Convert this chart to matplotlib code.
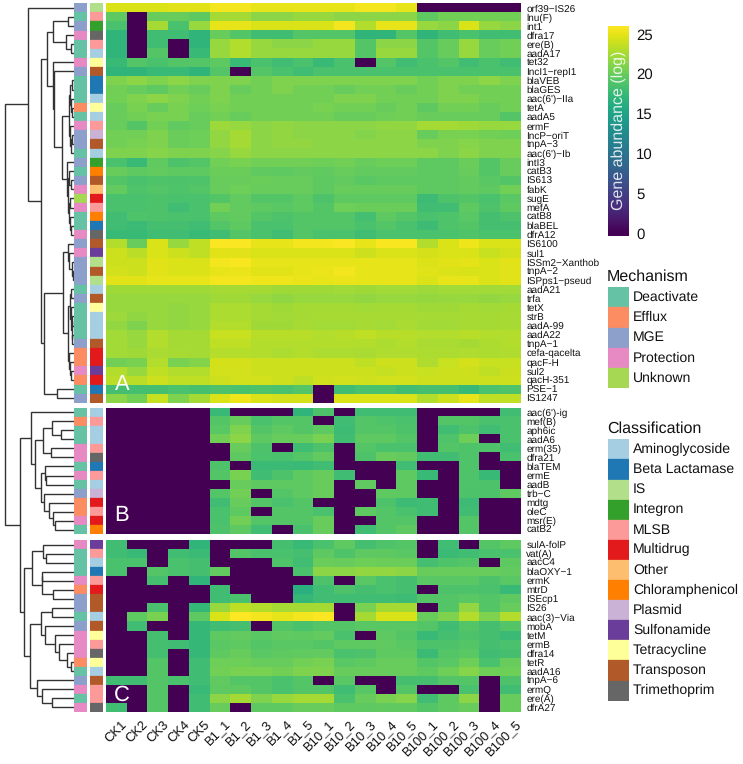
import matplotlib
matplotlib.use("Agg")
import matplotlib.pyplot as plt
from matplotlib.patches import Rectangle
from matplotlib.transforms import ScaledTranslation
import numpy as np

plt.rcParams["font.family"] = ["Liberation Sans", "DejaVu Sans"]
plt.rcParams["text.hinting"] = "no_hinting"
plt.rcParams["text.hinting_factor"] = 1

W, H = 743, 764

samples = ["CK1", "CK2", "CK3", "CK4", "CK5",
           "B1_1", "B1_2", "B1_3", "B1_4", "B1_5",
           "B10_1", "B10_2", "B10_3", "B10_4", "B10_5",
           "B100_1", "B100_2", "B100_3", "B100_4", "B100_5"]

genes_a = ["orf39−IS26", "lnu(F)", "int1", "dfra17", "ere(B)", "aadA17", "tet32", "IncI1−repI1",
           "blaVEB", "blaGES", "aac(6')−IIa", "tetA", "aadA5", "ermF", "IncP−oriT", "tnpA−3",
           "aac(6')−Ib", "intI3", "catB3", "IS613", "fabK", "sugE", "mefA", "catB8", "blaBEL",
           "dfrA12", "IS6100", "sul1", "ISSm2−Xanthob", "tnpA−2", "ISPps1−pseud", "aadA21",
           "trfa", "tetX", "strB", "aadA-99", "aadA22", "tnpA−1", "cefa-qacelta", "qacF-H",
           "sul2", "qacH-351", "PSE−1", "IS1247"]
genes_b = ["aac(6')-ig", "mef(B)", "aph6ic", "aadA6", "erm(35)", "dfra21", "blaTEM", "ermE",
           "aadB", "trb−C", "mdtg", "oleC", "msr(E)", "catB2"]
genes_c = ["sulA-folP", "vat(A)", "aacC4", "blaOXY−1", "ermK", "mtrD", "ISEcp1", "IS26",
           "aac(3)−Via", "mobA", "tetM", "ermB", "dfra14", "tetR", "aadA16", "tnpA−6", "ermQ",
           "ere(A)", "dfrA27"]

abund_a = [
    [24.5, 24.5, 24.5, 24.8, 24.8, 25.5, 25.5, 25, 25, 25, 25, 25, 25.5, 25.5, 25, 0, 0, 0, 0, 0],
    [19.5, 0, 20, 20, 19.5, 22.5, 22.5, 21.5, 21.5, 22, 22, 21.5, 21.5, 21.5, 21.5, 19.5, 20.5, 20.5, 20.5, 20.5],
    [18.5, 0, 22.5, 18.5, 22, 25, 25, 24.5, 24.5, 24.5, 24.5, 25.5, 23, 25, 25, 22, 21.5, 24.5, 22, 21.5],
    [17, 0, 18, 18, 17, 20, 19, 18, 18, 19, 19, 19, 17, 17, 19, 17, 18, 18.5, 18, 18],
    [17, 0, 18, 0, 17, 22, 23, 22, 21.5, 21.5, 22, 22, 19, 21.5, 21.5, 19, 20, 22, 20, 20.5],
    [17, 0, 19, 0, 17.5, 22, 23, 22, 22, 22, 22, 22, 19, 22, 22, 19, 20, 22, 20, 20.5],
    [17.5, 19, 18.5, 19, 19, 19.5, 17.5, 18.5, 18, 18.5, 17.5, 18.5, 0, 19, 18, 18.5, 19, 18, 18.5, 18],
    [17, 17, 17.5, 17.5, 17, 19, 0, 19, 18.5, 18, 18.5, 18.5, 18.5, 18.5, 18.5, 18.5, 18.5, 18.5, 18.5, 18.5],
    [21, 21.5, 21, 21.5, 21, 21, 21, 20.5, 21, 21, 21, 21, 21, 21, 21, 20.5, 21, 21, 21.5, 21],
    [20.5, 20, 19.5, 20.5, 20, 21, 20, 20.5, 21, 20.5, 20.5, 20, 20.5, 20.5, 20, 20.5, 21, 20.5, 20.5, 20.5],
    [20.5, 21, 21.5, 21, 20.5, 21, 20.5, 20.5, 20.5, 20.5, 20.5, 21, 21, 20.5, 20.5, 20.5, 21, 21, 20.5, 20.5],
    [20, 20.8, 20, 20.8, 20.3, 20.8, 20.5, 20.5, 20.5, 20.5, 20.8, 20.5, 20.5, 20, 20.5, 19.5, 20.5, 20.5, 20, 20.5],
    [20, 20.5, 20.8, 20.8, 20, 20.5, 20, 20.5, 20.5, 20.5, 20.5, 20, 20, 20.3, 20.5, 20, 20, 20, 20, 19],
    [20, 19, 20.5, 19.7, 20, 22.2, 22, 21.5, 21.8, 21.5, 21.5, 21.5, 21.5, 21.8, 21.8, 22.5, 22.5, 22.3, 22, 22],
    [20.5, 20.5, 21, 20.2, 20.3, 21.8, 22.5, 21.5, 21.8, 21.5, 21.5, 21.5, 21.2, 21.5, 21.5, 20, 20.8, 20.8, 20.5, 20.3],
    [20.5, 20.8, 21, 20.2, 20.3, 21.8, 22.5, 21.5, 21.8, 21.8, 21.5, 21.5, 21.5, 21.5, 21.5, 21, 21, 21.3, 21, 21],
    [21, 21, 21.3, 21, 21, 21.3, 22, 21.5, 21.5, 21.5, 21.5, 21.5, 21.5, 21.5, 21.5, 21.5, 21, 21.5, 21, 21],
    [18.5, 17.5, 19.7, 18.7, 19, 20.5, 20.8, 20.5, 20.5, 20.5, 20.3, 20.5, 20, 20.3, 20.3, 19.5, 19.5, 20.2, 19, 20],
    [20, 19.5, 19.8, 19.5, 19.5, 20.2, 20.2, 19.7, 19.5, 19.8, 19.7, 20, 19.8, 19.8, 19.8, 19.5, 19.5, 20, 19, 20],
    [19, 18.5, 18.8, 18.7, 18.8, 20, 20, 20.2, 20, 20, 19.5, 19.8, 19.3, 19.5, 19.5, 19.5, 19.5, 19.8, 19.3, 19],
    [19.8, 18.8, 19, 18.8, 19, 20, 20.3, 20, 20, 20, 19.5, 20, 20, 20, 20, 19.5, 19.5, 19.8, 19.5, 20.5],
    [18.5, 18.5, 18.7, 18.5, 18.5, 19, 19.8, 19, 19, 19.5, 18.7, 19.6, 19.6, 19.5, 19.6, 17.8, 18.7, 19, 18.5, 19.3],
    [18.5, 18.5, 18.7, 18, 18.5, 20.5, 19.8, 19.5, 19.3, 19.5, 19, 20.3, 20.2, 20.2, 20.2, 18, 18, 19.5, 18.7, 19.5],
    [18, 18.8, 18.7, 18.5, 18.5, 19.5, 19.8, 19, 18.7, 19, 19, 19, 18.2, 19.5, 19, 18.5, 18.8, 19.3, 18.3, 18.7],
    [18, 17.7, 18.3, 18.3, 18, 19, 19.5, 18.5, 18.5, 19, 19, 19, 18.5, 19, 18.5, 17.8, 18.8, 19, 18.3, 18.3],
    [17.5, 17.5, 18, 18, 17.5, 18, 19, 18.5, 18, 19, 18.5, 18.5, 18, 18.5, 18.5, 18.5, 18.5, 18.8, 18.5, 18.5],
    [23, 20, 24.5, 22, 23.5, 25.8, 25.8, 25, 25, 25.5, 25.5, 25.8, 25, 25.7, 25.7, 23, 24.5, 25.3, 24.5, 24.5],
    [24, 23.3, 24.5, 24, 23.5, 24.8, 24.8, 24.5, 24.5, 24.5, 24.5, 24.5, 24, 24.5, 24.5, 24.3, 24.5, 24.5, 23.8, 24.2],
    [24, 24, 24.8, 24.5, 24.5, 25.5, 25.7, 25, 25, 25, 25, 25, 25, 25, 25, 24.6, 24.8, 24.9, 24.5, 24.8],
    [24.2, 24, 24.8, 24.5, 24.6, 25, 25.2, 24.8, 24.8, 25, 25.2, 25.5, 25, 25, 25, 24.7, 24.6, 24.4, 24.5, 24.8],
    [24.8, 24.8, 25, 25, 25, 25.5, 25.5, 25.3, 25.3, 25.2, 25, 25.2, 25, 25, 25, 24.5, 25, 25, 24.5, 24.8],
    [22.3, 22.3, 22.3, 22.3, 22.3, 22.5, 22.5, 22.5, 22.3, 22.3, 22.3, 22.4, 22.3, 22.4, 22.4, 22.2, 22.4, 22.4, 22.4, 22.4],
    [22, 22, 22, 22, 22, 22.3, 22.3, 22, 21.7, 22, 22, 22, 21.8, 22, 22, 21.9, 22, 22, 21.8, 22],
    [22, 22, 22, 21.8, 22, 22.8, 22.8, 22.5, 22.3, 22.5, 22.5, 22.5, 22.4, 22.5, 22.5, 22.3, 22.3, 22.5, 22.4, 22.5],
    [22.2, 21.7, 22, 21.8, 22, 22.8, 22.8, 22.5, 22.4, 22.5, 22.6, 22.6, 22.6, 22.6, 22.6, 22.5, 22.5, 22.6, 22.5, 22.6],
    [21.8, 21, 22, 21.8, 22, 23, 23, 22.3, 22.3, 22.6, 22.4, 22.4, 22.6, 22.4, 22.7, 22.4, 22.4, 22.6, 22.5, 22.6],
    [22.4, 22, 23, 22.5, 22.5, 23.8, 23.8, 23.2, 23.2, 23.2, 23, 23.2, 23.5, 23.2, 23.2, 23, 23, 23.2, 23, 23],
    [22.4, 22, 23, 22.5, 22.5, 23.5, 23.5, 23, 23, 23, 23, 23, 23, 22.8, 23, 22.7, 22.7, 22.5, 22.8, 23],
    [22.4, 22.3, 22.7, 22.6, 22.5, 23.1, 23.1, 23, 22.8, 23, 22.8, 22.8, 22.7, 22.9, 22.9, 22.8, 22.8, 22.9, 22.8, 22.9],
    [20.5, 20.8, 23, 20.8, 21.2, 24.3, 24.3, 24, 24, 24, 24, 24, 23.5, 24, 24, 22.9, 23.8, 24.3, 23.8, 23.8],
    [23, 22, 23.5, 23, 23, 24.2, 24.2, 24, 24, 24, 24, 24, 24, 23.7, 24, 23.8, 24, 24, 23.5, 23.9],
    [23.3, 23.3, 24, 23.5, 23.5, 24, 24.2, 24.2, 24, 23.5, 24.1, 24.2, 24.1, 24.2, 24.2, 24, 24, 24, 24, 24],
    [18.3, 18.3, 18.3, 18.6, 18.4, 18.7, 18.5, 18.8, 18.5, 19, 0, 18, 18.5, 18.5, 18, 18.3, 18.3, 17.5, 18.5, 18.8],
    [21.5, 20.5, 23.8, 21, 22.5, 24.5, 25.3, 24.5, 24.3, 24.3, 0, 24.5, 24.5, 24.5, 24.5, 23, 24, 25, 23.5, 23.5],
]

abund_b = [
    [0, 0, 0, 0, 0, 17.5, 0, 0, 0, 17, 18.7, 0, 18, 18, 18, 0, 0, 0, 0, 18],
    [0, 0, 0, 0, 0, 19, 20, 18.5, 19, 19, 0, 18, 19, 18.8, 18.5, 0, 19, 19, 18.5, 18.5],
    [0, 0, 0, 0, 0, 19.3, 21, 19, 19.5, 19, 19.5, 17.8, 19, 19, 18.7, 0, 18, 18.7, 18, 18.5],
    [0, 0, 0, 0, 0, 20.5, 21.5, 19.5, 20, 20, 20.8, 18, 19.5, 19.5, 19, 0, 18.8, 20.3, 0, 18.5],
    [0, 0, 0, 0, 0, 0, 20, 18.7, 0, 18, 18.7, 0, 19, 18.5, 18.5, 0, 19, 18.8, 18.8, 18],
    [0, 0, 0, 0, 0, 0, 19.5, 18.6, 18.5, 19, 19.8, 0, 18.7, 20, 19.8, 18, 18, 18.8, 0, 18.5],
    [0, 0, 0, 0, 0, 18.7, 0, 17.7, 17.7, 17.5, 18, 0, 0, 0, 18, 0, 0, 18.8, 0, 0],
    [0, 0, 0, 0, 0, 19, 20.8, 18, 18.7, 19.5, 20, 18, 0, 0, 19.5, 17.5, 0, 18.8, 17.5, 0],
    [0, 0, 0, 0, 0, 0, 20, 19.5, 19.5, 19.5, 20, 0, 19.7, 0, 19.5, 0, 0, 18.8, 18.7, 0],
    [0, 0, 0, 0, 0, 19, 20.5, 0, 19, 19.5, 20, 0, 0, 19.5, 19.5, 0, 0, 18.7, 18.7, 19.5],
    [0, 0, 0, 0, 0, 18, 20, 19, 18.5, 19, 0, 0, 0, 18.7, 17.8, 18, 0, 17.8, 0, 0],
    [0, 0, 0, 0, 0, 18.5, 19.5, 0, 19, 19, 18.5, 0, 19.5, 19, 18.5, 18, 0, 18, 0, 0],
    [0, 0, 0, 0, 0, 18.5, 20.5, 19, 19, 19, 20, 0, 0, 19, 19, 0, 0, 19, 0, 0],
    [0, 0, 0, 0, 0, 18.7, 19.5, 18, 0, 18.5, 20, 0, 18, 19, 19.5, 0, 0, 19, 0, 0],
]

abund_c = [
    [18, 0, 0, 0, 17, 0, 0, 0, 18.3, 17.5, 18.5, 19.5, 18.3, 18.8, 19, 0, 18, 0, 19, 19.5],
    [18, 17.5, 0, 18, 17.7, 0, 19, 18.5, 18.5, 18.3, 19.5, 18.8, 19.5, 19.5, 19.3, 0, 17.7, 18, 18.5, 18.5],
    [18.5, 18.5, 0, 18.5, 18.3, 0, 0, 0, 18.8, 18, 20.2, 20, 20.3, 20.2, 20.2, 18.3, 18.8, 19, 0, 19.5],
    [18.5, 0, 19, 18.5, 18.3, 19.8, 0, 0, 0, 18.5, 21.5, 21.5, 21.8, 21.8, 21.5, 20, 20, 20, 20, 19.8],
    [0, 0, 18.3, 0, 17, 0, 0, 0, 0, 0, 18.7, 0, 19.3, 18.5, 18.3, 19.3, 19.3, 19.3, 18.7, 19.3],
    [0, 0, 0, 0, 0, 18, 0, 0, 0, 16.5, 18, 18.7, 18.3, 18.5, 18.3, 0, 18.7, 18.7, 18.5, 17.5],
    [0, 0, 0, 0, 0, 18, 18.5, 0, 0, 17.3, 18, 18, 18, 18, 17.8, 19, 19, 19.3, 19, 19.5],
    [0, 0, 18.5, 0, 17.3, 22, 23.5, 23, 22.5, 22.5, 22.5, 0, 20.8, 22.5, 22.5, 0, 19, 21.8, 19, 20],
    [0, 19.5, 20.8, 0, 19.5, 24.5, 26, 25.5, 25, 25.5, 25.8, 0, 22.5, 24.5, 24.5, 20, 21, 23, 21, 23],
    [0, 18, 0, 0, 17.3, 18, 18.3, 0, 19, 18.5, 19, 19, 19.3, 19.3, 19.3, 19, 18, 19, 18.3, 19],
    [0, 0, 18.3, 0, 17.3, 19.5, 19.8, 19.3, 19.7, 19.5, 19.8, 18.5, 0, 19.5, 19, 17.5, 18.3, 18.7, 18.3, 17.7],
    [0, 0, 18.3, 18, 17.3, 19.3, 19.5, 19, 19.3, 19.3, 19, 19.5, 19.5, 19.7, 19.3, 18.7, 18.7, 19, 18.3, 18.5],
    [0, 0, 18.3, 0, 17.3, 19.5, 20, 19.3, 19.5, 19.7, 19.8, 18.5, 18.7, 19.5, 19.5, 17.7, 19, 19.3, 18, 18.3],
    [0, 0, 19, 0, 18, 20.3, 20.3, 20, 20, 20.5, 20.8, 19.3, 19.5, 20, 20, 19, 19.3, 20.3, 18.5, 20],
    [0, 0, 19, 0, 18, 20.5, 20.8, 20.8, 20.5, 21, 21, 20, 20, 20, 20, 19.5, 20.3, 21.3, 20.3, 20.3],
    [18, 18, 19, 18.5, 18, 19.7, 19, 19, 18.5, 19, 0, 19.3, 0, 0, 18.3, 18.3, 19, 19, 0, 18.7],
    [0, 0, 19, 0, 17.5, 19.5, 19.5, 19, 18.5, 19, 19, 18, 19.2, 0, 19, 0, 0, 18.5, 0, 18],
    [0, 0, 19, 0, 18, 21.5, 22.5, 21, 22, 22.5, 22.5, 18.5, 20, 20.8, 21.3, 18, 19.5, 21.5, 0, 20],
    [18, 0, 19, 0, 18, 20, 0, 19.5, 19.5, 20, 20, 19.5, 19.5, 19.7, 19.7, 19, 19.5, 20, 0, 20],
]

mechanism_names = ["Deactivate", "Efflux", "MGE", "Protection", "Unknown"]
mechanism_colors = ["#66c2a5", "#fc8d62", "#8da0cb", "#e78ac3", "#a6d854"]
class_names = ["Aminoglycoside", "Beta Lactamase", "IS", "Integron", "MLSB", "Multidrug", "Other",
               "Chloramphenicol", "Plasmid", "Sulfonamide", "Tetracycline", "Transposon", "Trimethoprim"]
class_colors = ["#a6cee3", "#1f78b4", "#b2df8a", "#33a02c", "#fb9a99", "#e31a1c", "#fdbf6f",
                "#ff7f00", "#cab2d6", "#6a3d9a", "#ffff99", "#b15928", "#666666"]

mech_a = "MDMPDDPMDDDEDPMMDMDMPUPDDPMPMMMDMDDDDMEEPEDM"
mech_b = "DEDDPPDPDMEEPD"
mech_c = "PDDDPEMMDMPPPEDMPDP"
cls_a = ["IS", "MLSB", "Integron", "Trimethoprim", "MLSB", "Aminoglycoside", "Tetracycline", "Transposon",
         "Beta Lactamase", "Beta Lactamase", "Aminoglycoside", "Tetracycline", "Aminoglycoside", "MLSB",
         "Plasmid", "Transposon", "Aminoglycoside", "Integron", "Chloramphenicol", "Transposon", "Other",
         "Multidrug", "MLSB", "Chloramphenicol", "Beta Lactamase", "Trimethoprim", "Transposon", "Sulfonamide",
         "IS", "Transposon", "IS", "Aminoglycoside", "Transposon", "Tetracycline", "Aminoglycoside",
         "Aminoglycoside", "Aminoglycoside", "Transposon", "Multidrug", "Multidrug", "Sulfonamide", "Multidrug",
         "Beta Lactamase", "Transposon"]
cls_b = ["Aminoglycoside", "MLSB", "Aminoglycoside", "Aminoglycoside", "MLSB", "Trimethoprim", "Beta Lactamase",
         "MLSB", "Aminoglycoside", "Plasmid", "Multidrug", "MLSB", "Multidrug", "Chloramphenicol"]
cls_c = ["Sulfonamide", "MLSB", "Aminoglycoside", "Beta Lactamase", "MLSB", "Multidrug", "Transposon", "Transposon",
         "Aminoglycoside", "Transposon", "Tetracycline", "MLSB", "Trimethoprim", "Tetracycline", "Aminoglycoside",
         "Transposon", "MLSB", "MLSB", "Trimethoprim"]

# merge heights of the row clustering, (height, upper, lower), L is a leaf
L = None
tree = (68.8,
        (45.2, L,
         (32.8,
          (26.8,
           (20.2, (5.8, L, L), (7.8, L, (2.8, L, L))),
           (20.2, L, (19.2, L, (11.2,
                                (4.5, (3.5, (2, L, L), (2.8, L, (1.8, L, L))), (3.2, L, (2.5, (1.5, L, L), L))),
                                (6.8, L, (6.0, (4.5, L, (2.8, L, L)), (5.0, (3.5, L, L), (4.0, L, (2.5, L, L))))))))),
          (29.2,
           (10.2,
            (5.2, L, (4.8, L, (2.0, L, (1.0, L, L)))),
            (5.8,
             (3.2, (2.2, L, L), (2.6, L, (2.0, (1.2, L, L), (1.5, L, L)))),
             (5.0, L, (4.0, L, (2.8, L, L))))),
           (16.8, L, L)))),
        (53.5,
         (42.8, L,
          (38.5,
           (30.2, (21.2, L, (12.8, L, L)), (22.8, L, L)),
           (32.8,
            (28.5, L, (27.5, L, L)),
            (29.5, L, (24.5, L, (20.2, L, (18.5, L, L))))))),
         (49.2,
          (41.8, (30.8, L, (27.8, L, L)), (31.8, (31.5, L, L), (20.2, L, L))),
          (43.5,
           (32.8, (21.8, L, L), (28.5, L, (18.5, L, (14.2, L, (6.8, L, (2.8, L, L)))))),
           (36.2, L, (31.8, L, (21.8, L, L)))))))

VMAX = 26
panels = [
    ("A", genes_a, abund_a, mech_a, cls_a, 3.3, 402.7, 384),
    ("B", genes_b, abund_b, mech_b, cls_b, 407.7, 534.3, 515),
    ("C", genes_c, abund_c, mech_c, cls_c, 540.0, 712.0, 695),
]
X0, X1 = 106.5, 521.5
LEAF_X = 73.5

fig = plt.figure(figsize=(W / 100, H / 100), dpi=100)


def px_axes(x0, y0, x1, y1):
    return fig.add_axes([x0 / W, 1 - y1 / H, (x1 - x0) / W, (y1 - y0) / H])


def strip(x0, x1, y0, y1, colors):
    ax = px_axes(x0, y0, x1, y1)
    for i, c in enumerate(colors):
        ax.add_patch(Rectangle((0, i), 1, 1, fc=c, ec=c, lw=0.2))
    ax.set_xlim(0, 1)
    ax.set_ylim(len(colors), 0)
    ax.axis("off")


leaf_y = []
mech_lookup = dict(zip("DEMPU", mechanism_colors))
class_lookup = dict(zip(class_names, class_colors))

for letter, genes, values, mech, cls, y0, y1, letter_y in panels:
    ax = px_axes(X0, y0, X1, y1)
    ax.imshow(np.array(values), cmap="viridis", vmin=0, vmax=VMAX, aspect="auto",
              interpolation="nearest")
    ax.set_xticks([])
    ax.yaxis.tick_right()
    ax.set_yticks(range(len(genes)))
    ax.set_yticklabels(genes, fontsize=7.4, color="#111111")
    ax.tick_params(axis="y", length=0, pad=3.5)
    for s in ax.spines.values():
        s.set_visible(False)
    fig.text(122 / W, 1 - letter_y / H, letter, color="white", fontsize=15.5, ha="center", va="center")

    strip(74, 87, y0, y1, [mech_lookup[m] for m in mech])
    strip(89.7, 103, y0, y1, [class_lookup[c] for c in cls])

    dy = (y1 - y0) / len(genes)
    leaf_y += [y0 + (i + 0.5) * dy for i in range(len(genes))]

    if letter == "C":
        ax.set_xticks(range(len(samples)))
        ax.set_xticklabels(samples, rotation=45, ha="right", va="top", rotation_mode="anchor",
                           fontsize=9.6, color="#111111")
        ax.tick_params(axis="x", length=0, pad=4.5)
        shift = ScaledTranslation(4 / 100, 0, fig.dpi_scale_trans)
        for lab in ax.get_xticklabels():
            lab.set_transform(lab.get_transform() + shift)

# dendrogram, drawn in pixel coordinates
dend = px_axes(0, 0, LEAF_X, H)
dend.set_xlim(LEAF_X, 0)
dend.set_ylim(H, 0)
dend.axis("off")
leaves = iter(leaf_y)


def draw(node):
    if node is None:
        return 0, next(leaves)
    h, upper, lower = node
    hu, yu = draw(upper)
    hl, yl = draw(lower)
    dend.plot([hu, h, h, hl], [yu, yu, yl, yl], color="#333333", lw=1.0,
              solid_joinstyle="miter", solid_capstyle="butt")
    return h, (yu + yl) / 2


draw(tree)

# colour bar
cb = px_axes(608.3, 26, 629, 236)
grad = np.linspace(-0.34, 26, 256).reshape(-1, 1)
cb.imshow(grad, cmap="viridis", vmin=0, vmax=VMAX, aspect="auto", origin="lower",
          extent=(0, 1, -0.34, 26))
cb.set_xticks([])
cb.yaxis.tick_right()
cb.set_yticks([0, 5, 10, 15, 20, 25])
cb.tick_params(axis="y", length=0, pad=5, labelsize=10.8, labelcolor="#111111")
for s in cb.spines.values():
    s.set_visible(False)
cb.text(0.5, 0.505, "Gene abundance (log)", transform=cb.transAxes, rotation=90, color="white",
        alpha=0.85, fontsize=11.6, ha="center", va="center")


def legend(title, names, colors, title_y, top, step):
    fig.text(607 / W, 1 - title_y / H, title, fontsize=11.7, ha="left", va="center", color="#111111")
    strip(608.3, 629, top, top + step * len(names), colors)
    for i, name in enumerate(names):
        fig.text(633 / W, 1 - (top + (i + 0.5) * step) / H, name, fontsize=10.1, ha="left",
                 va="center", color="#111111")


legend("Mechanism", mechanism_names, mechanism_colors, 277, 287.3, 20.15)
legend("Classification", class_names, class_colors, 429, 439.3, 20.1)

fig.savefig("out.png", dpi=100)
